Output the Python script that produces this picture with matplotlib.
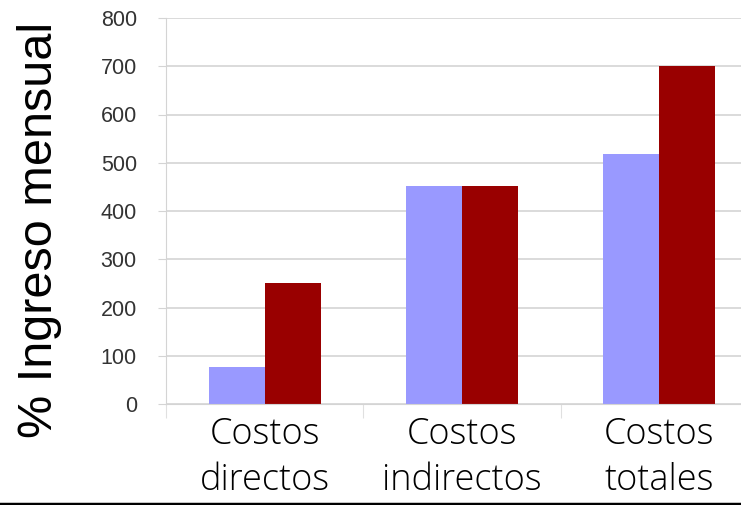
import numpy as np
import matplotlib.pyplot as plt

categorias = ["Costos\ndirectos", "Costos\nindirectos", "Costos\ntotales"]
serie_a = [76, 452, 518]
serie_b = [250, 452, 700]
yticks = [0, 100, 200, 300, 400, 500, 600, 700, 800]

fig = plt.figure(figsize=(7.41, 5.05), dpi=100)
ax = fig.add_axes([166 / 741, 1 - 404 / 505, 1 - 166 / 741, 386 / 505])

x = np.arange(len(categorias))
w = 0.284
ax.bar(x - w / 2, serie_a, w, color="#9999ff", zorder=2)
ax.bar(x + w / 2, serie_b, w, color="#990000", zorder=2)

ax.set_ylim(0, 800)
ax.set_xlim(-0.496, 2.415)
ax.set_yticks(yticks)
ax.yaxis.grid(True, color="#d4d4d4", linewidth=1.2, zorder=0)
ax.tick_params(axis="y", length=6, color="#d4d4d4", labelsize=15.5,
               labelcolor="#333333", pad=15)
for lbl in ax.get_yticklabels():
    lbl.set_family("Liberation Sans")

# category labels go on their own, ticks sit between the groups
ax.set_xticks([-0.5, 0.5, 1.5])
ax.set_xticklabels([])
ax.tick_params(axis="x", length=10, color="#e0e0e0")
for i, c in enumerate(categorias):
    ax.text(i, -24, c, ha="center", va="top", fontsize=26, family="Open Sans",
            fontweight="light", linespacing=1.32, color="black")

for s in ["top", "right"]:
    ax.spines[s].set_visible(False)
ax.spines["left"].set_color("#d4d4d4")
ax.spines["bottom"].set_color("#d4d4d4")

fig.text(40 / 741, 1 - 230 / 505, "% Ingreso mensual", rotation=90,
         ha="center", va="center", fontsize=35, family="Liberation Sans")

# thick rule across the bottom edge
fig.add_artist(plt.Line2D([0, 1], [1.5 / 505, 1.5 / 505], color="black",
                          linewidth=2.5, transform=fig.transFigure))

fig.savefig("out.png", dpi=100)
